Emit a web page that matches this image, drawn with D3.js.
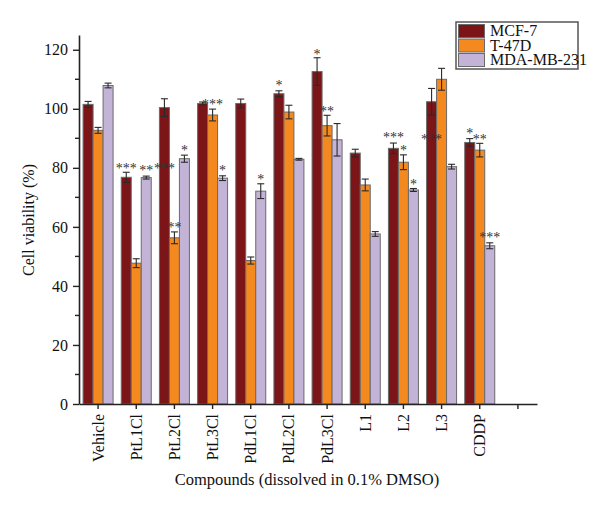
<!DOCTYPE html>
<html><head><meta charset="utf-8">
<script src="https://cdn.jsdelivr.net/npm/d3@7/dist/d3.min.js"></script>
<style>body{margin:0;background:#fff}svg{display:block}text{font-family:"Liberation Serif","DejaVu Serif",serif}</style>
</head><body><svg id="c" width="600" height="511"></svg>
<script>
const categories = ["Vehicle","PtL1Cl","PtL2Cl","PtL3Cl","PdL1Cl","PdL2Cl","PdL3Cl","L1","L2","L3","CDDP"];
const seriesNames = ["MCF-7","T-47D","MDA-MB-231"];
const mcf7 =    [101.5, 76.8, 100.4, 101.8, 101.8, 105.1, 112.6, 85.0, 86.6, 102.4, 88.6];
const mcf7Err = [1.0, 1.7, 3.0, 0.5, 1.5, 1.0, 4.7, 1.3, 1.8, 4.5, 1.3];
const t47d =    [92.7, 47.7, 56.3, 97.9, 48.6, 98.9, 94.3, 74.2, 81.9, 110.0, 86.0];
const t47dErr = [1.0, 1.5, 2.0, 2.0, 1.2, 2.3, 3.5, 2.0, 2.5, 3.7, 2.3];
const mda =     [107.9, 76.7, 83.1, 76.5, 72.1, 82.9, 89.5, 57.6, 72.5, 80.4, 53.6];
const mdaErr =  [0.8, 0.5, 1.2, 0.8, 2.5, 0.3, 5.5, 0.8, 0.5, 0.8, 1.0];
const yTicks = [0,20,40,60,80,100,120];
const yMinorTicks = [10,30,50,70,90,110];
// significance marks: category, series index, value where the mark sits, text
const annotCat = ["PtL1Cl","PtL1Cl","PtL2Cl","PtL2Cl","PtL2Cl","PtL3Cl","PtL3Cl","PdL1Cl","PdL2Cl","PdL3Cl","PdL3Cl","L2","L2","L2","L3","CDDP","CDDP","CDDP"];
const annotSeries = [0,2,0,1,2,1,2,2,0,0,1,0,1,2,0,0,1,2];
const annotValue = [80.7,80.0,80.7,60.7,86.8,102.4,80.0,77.0,108.8,119.3,100.0,91.2,86.8,75.3,90.5,92.5,90.5,57.3];
const annotText = ["***","**","***","**","*","***","*","*","*","*","**","***","*","*","***","*","**","***"];

const colors = ["#7b1518","#f3891f","#c3b4d7"];
const values = [mcf7, t47d, mda];
const errs = [mcf7Err, t47dErr, mdaErr];

const svg = d3.select("#c");
const mLeft = 79, mRight = 537, mBottom = 404, mTop = 35;
const y = d3.scaleLinear().domain([0,125]).range([mBottom, mTop]);
const slots = categories.concat([""]);
const x = d3.scaleBand().domain(slots).range([mLeft, mRight]).padding(0);
const bw = x.bandwidth();
const xs = d3.scaleBand().domain([0,1,2]).range([bw*0.107, bw*0.893]).padding(0);

// bars
for (let s = 0; s < 3; s++) {
  const g = svg.append("g");
  g.selectAll("rect").data(categories).join("rect")
    .attr("x", (d) => x(d) + xs(s))
    .attr("y", (d,i) => y(values[s][i]))
    .attr("width", xs.bandwidth())
    .attr("height", (d,i) => y(0) - y(values[s][i]))
    .attr("fill", colors[s]).attr("stroke", "#6a6a6a").attr("stroke-width", 1);
}
// error bars
for (let s = 0; s < 3; s++) {
  const g = svg.append("g").attr("stroke", "#2a2a2a").attr("stroke-width", 1.1);
  categories.forEach((c, i) => {
    const cx = x(c) + xs(s) + xs.bandwidth()/2;
    const v = values[s][i], e = errs[s][i];
    g.append("line").attr("x1", cx).attr("x2", cx).attr("y1", y(v+e)).attr("y2", y(v-e));
    g.append("line").attr("x1", cx-3.5).attr("x2", cx+3.5).attr("y1", y(v+e)).attr("y2", y(v+e));
    g.append("line").attr("x1", cx-3.5).attr("x2", cx+3.5).attr("y1", y(v-e)).attr("y2", y(v-e));
  });
}
// annotations
svg.append("g").selectAll("text").data(annotText).join("text")
  .attr("x", (d,i) => x(annotCat[i]) + xs(annotSeries[i]) + xs.bandwidth()/2)
  .attr("y", (d,i) => y(annotValue[i]) + 7.5)
  .attr("text-anchor", "middle").attr("font-size", 14).attr("fill", "#333")
  .text(d => d);

// y axis
const ya = svg.append("g").attr("transform", `translate(${mLeft},0)`)
  .call(d3.axisLeft(y).tickValues(yTicks).tickSize(6).tickSizeOuter(0).tickPadding(5));
ya.select(".domain").attr("stroke-width", 1.6).attr("stroke", "#222");
ya.selectAll(".tick line").attr("stroke-width", 1.4).attr("stroke", "#222");
ya.selectAll("text").attr("font-size", 16).attr("fill", "#111").attr("font-family", '"Liberation Serif",serif');
svg.append("g").selectAll("line").data(yMinorTicks).join("line")
  .attr("x1", mLeft-4).attr("x2", mLeft).attr("y1", d => y(d)).attr("y2", d => y(d))
  .attr("stroke", "#222").attr("stroke-width", 1.4);

// x axis
const xa = svg.append("g").attr("transform", `translate(0,${mBottom})`)
  .call(d3.axisBottom(x).tickSize(5).tickSizeOuter(0).tickFormat(() => ""));
xa.select(".domain").attr("stroke-width", 1.6).attr("stroke", "#222");
xa.selectAll(".tick line").attr("stroke-width", 1.4).attr("stroke", "#222");
svg.append("g").selectAll("text").data(categories).join("text")
  .attr("transform", d => `translate(${x(d) + bw/2 + 5.5},${mBottom + 10}) rotate(-90)`)
  .attr("text-anchor", "end").attr("font-size", 16).attr("fill", "#111")
  .text(d => d);

// titles
svg.append("text").attr("transform", `translate(33.5,220) rotate(-90)`)
  .attr("text-anchor", "middle").attr("font-size", 16).attr("fill", "#111")
  .text("Cell viability (%)");
svg.append("text").attr("x", 307).attr("y", 485).attr("text-anchor", "middle")
  .attr("font-size", 16.5).attr("fill", "#111")
  .text("Compounds (dissolved in 0.1% DMSO)");

// legend
const lg = svg.append("g");
lg.append("rect").attr("x", 456).attr("y", 22).attr("width", 122).attr("height", 47)
  .attr("fill", "#fff").attr("stroke", "#555").attr("stroke-width", 1.5);
seriesNames.forEach((n, i) => {
  lg.append("rect").attr("x", 458.5).attr("y", 24.5 + i*14.5).attr("width", 26).attr("height", 13)
    .attr("fill", colors[i]).attr("stroke", "#6a6a6a").attr("stroke-width", 1);
  lg.append("text").attr("x", 490).attr("y", 36 + i*14.5).attr("font-size", 16).attr("fill", "#111").text(n);
});
</script></body></html>
